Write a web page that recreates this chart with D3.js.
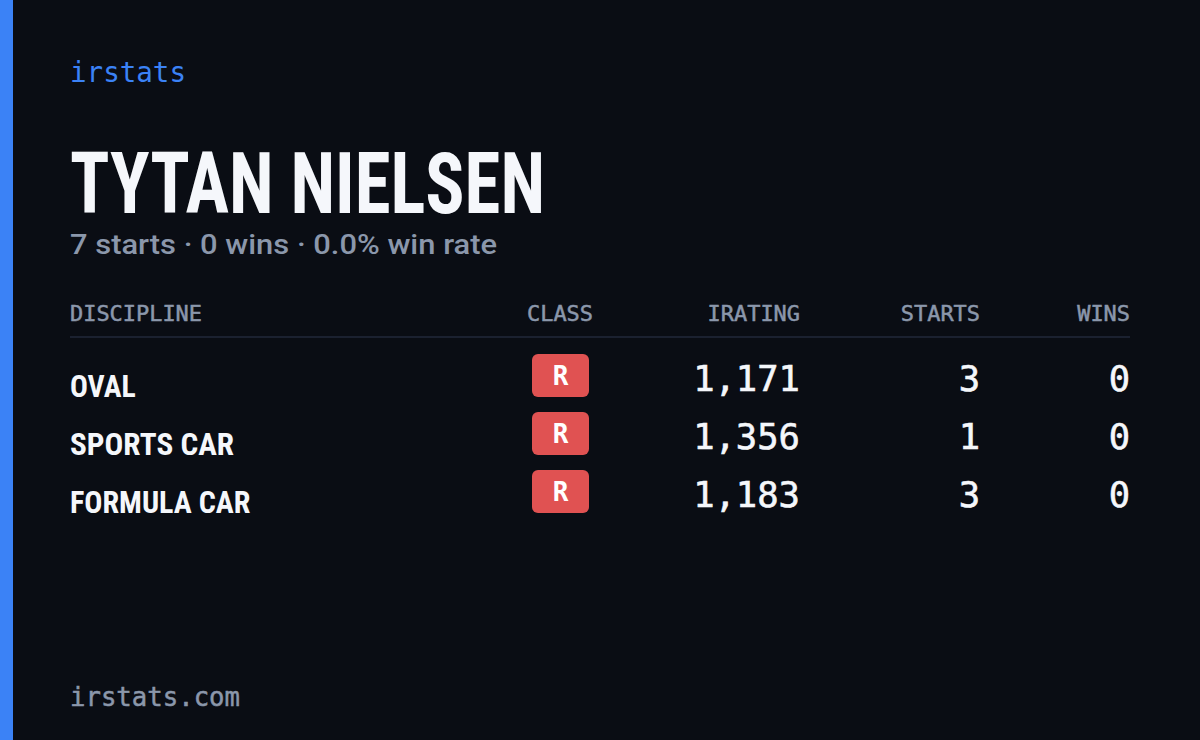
<!DOCTYPE html>
<html>
<head>
<meta charset="utf-8">
<script src="https://cdn.jsdelivr.net/npm/d3@7"></script>
<style>
body { margin: 0; background: #0a0d14; }
svg { display: block; }
</style>
</head>
<body>
<svg id="card" width="1200" height="740"></svg>
<script>
var disciplines = ["OVAL", "SPORTS CAR", "FORMULA CAR"];
var classes = ["R", "R", "R"];
var iratings = [1171, 1356, 1183];
var starts = [3, 1, 3];
var wins = [0, 0, 0];
var headers = ["DISCIPLINE", "CLASS", "IRATING", "STARTS", "WINS"];

var driver = "TYTAN NIELSEN";
var totalStarts = d3.sum(starts);
var totalWins = d3.sum(wins);

var mono = "'DejaVu Sans Mono', 'Liberation Mono', monospace";
var narrow = "'Liberation Sans Narrow', 'Roboto Condensed', sans-serif";

var svg = d3.select("#card");
svg.append("rect").attr("width", 1200).attr("height", 740).attr("fill", "#0a0d14");
svg.append("rect").attr("width", 13).attr("height", 740).attr("fill", "#3b82f6");

svg.append("text").attr("x", 70).attr("y", 82).text("irstats")
    .attr("font-family", mono).attr("font-size", 27.5).attr("fill", "#3b82f6")
    .attr("textLength", 116).attr("lengthAdjust", "spacingAndGlyphs");

svg.append("text").attr("x", 70).attr("y", 213).text(driver)
    .attr("font-family", narrow).attr("font-weight", "bold").attr("font-size", 86)
    .attr("fill", "#f5f7fb").attr("textLength", 475).attr("lengthAdjust", "spacingAndGlyphs");

svg.append("text").attr("x", 70).attr("y", 254)
    .text(totalStarts + " starts · " + totalWins + " wins · " + d3.format(".1%")(totalWins / totalStarts) + " win rate")
    .attr("font-family", "Roboto, 'Open Sans', sans-serif").attr("font-weight", 500).attr("font-size", 28)
    .attr("fill", "#8b97ab").attr("textLength", 427).attr("lengthAdjust", "spacingAndGlyphs");

// columns: [x, anchor]
var cols = [[70, "start"], [560, "middle"], [800, "end"], [980, "end"], [1130, "end"]];

svg.selectAll(".hdr").data(headers).enter().append("text")
    .attr("x", function (d, i) { return cols[i][0]; })
    .attr("y", 321)
    .attr("text-anchor", function (d, i) { return cols[i][1]; })
    .attr("font-family", mono).attr("font-size", 21).attr("fill", "#8b97ab")
    .attr("stroke", "#8b97ab").attr("stroke-width", 0.5)
    .attr("lengthAdjust", "spacingAndGlyphs")
    .attr("textLength", function (d) { return d.length * 13.2; })
    .text(function (d) { return d; });

svg.append("line").attr("x1", 70).attr("x2", 1130).attr("y1", 337).attr("y2", 337)
    .attr("stroke", "#1b2130").attr("stroke-width", 2);

var y = d3.scaleBand().domain(d3.range(disciplines.length)).range([347, 521]);

var rows = svg.selectAll(".row").data(disciplines).enter().append("g")
    .attr("transform", function (d, i) { return "translate(0," + (y(i) + y.bandwidth() / 2) + ")"; });

rows.append("text").attr("x", 70).attr("y", 21)
    .attr("font-family", narrow).attr("font-weight", "bold").attr("font-size", 32)
    .attr("fill", "#f5f7fb").attr("lengthAdjust", "spacingAndGlyphs")
    .attr("textLength", function (d) { return d.length * 16.4; })
    .text(function (d) { return d; });

rows.append("rect").attr("x", 532).attr("y", -22).attr("width", 57).attr("height", 43)
    .attr("rx", 6).attr("fill", "#e05252");
rows.append("text").attr("x", 560.5).attr("y", 9).attr("text-anchor", "middle")
    .attr("font-family", mono).attr("font-weight", "bold").attr("font-size", 26).attr("fill", "#fff")
    .text(function (d, i) { return classes[i]; });

var vals = [iratings.map(d3.format(",")), starts, wins];
vals.forEach(function (arr, c) {
    rows.append("text").attr("x", cols[c + 2][0]).attr("y", 15).attr("text-anchor", "end")
        .attr("font-family", mono).attr("font-size", 35.5).attr("fill", "#f5f7fb")
        .attr("stroke", "#f5f7fb").attr("stroke-width", 0.6)
        .text(function (d, i) { return arr[i]; });
});

svg.append("text").attr("x", 70).attr("y", 706).text("irstats.com")
    .attr("font-family", mono).attr("font-size", 26).attr("fill", "#8b97ab")
    .attr("stroke", "#8b97ab").attr("stroke-width", 0.5)
    .attr("textLength", 170).attr("lengthAdjust", "spacingAndGlyphs");
</script>
</body>
</html>
